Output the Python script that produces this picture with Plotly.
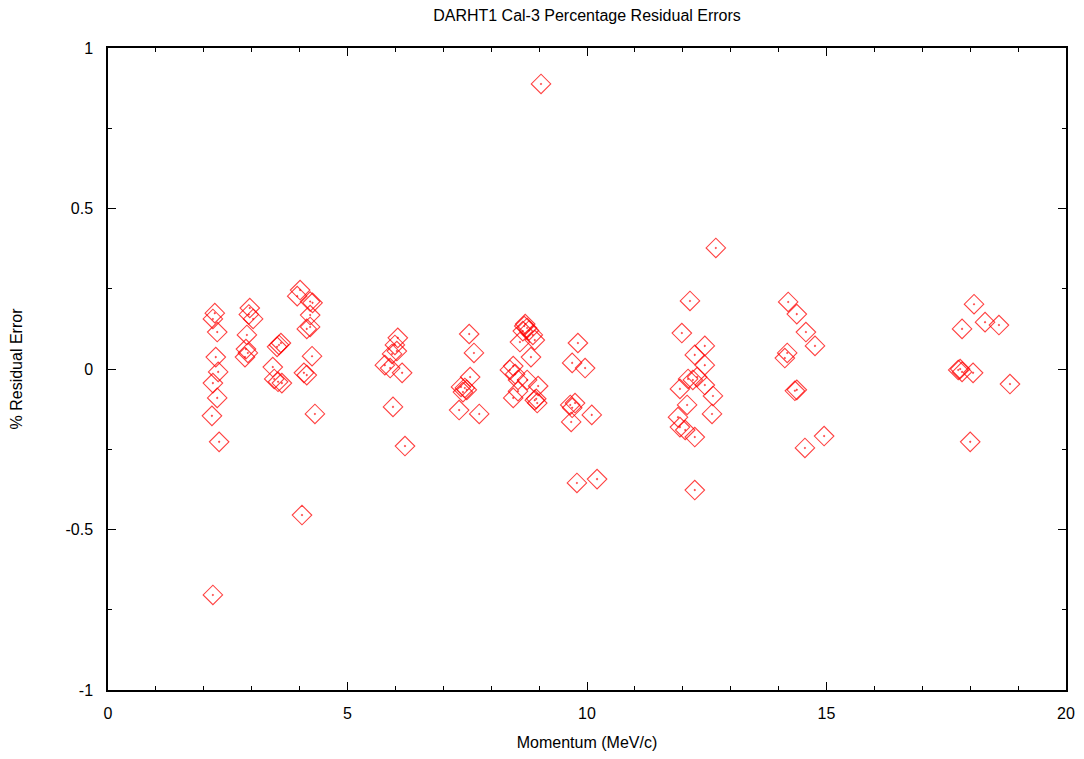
import plotly.graph_objects as go

# Momentum (MeV/c) and % residual error
momentum = [
    2.23, 2.19, 2.28, 2.25, 2.30, 2.19, 2.28, 2.17, 2.32, 2.19,
    2.96, 2.94, 3.03, 2.90, 2.88, 2.86, 2.92,
    3.57, 3.53, 3.61, 3.44, 3.47, 3.55, 3.63,
    4.01, 3.95, 4.22, 4.27, 4.22, 4.15, 4.22, 4.26, 4.09, 4.15, 4.32, 4.05,
    6.05, 5.99, 6.03, 5.93, 5.78, 5.89, 6.14, 5.95, 6.20,
    7.54, 7.64, 7.56, 7.37, 7.45, 7.41, 7.49, 7.33, 7.75,
    8.71, 8.75, 8.66, 8.87, 8.60, 8.91, 8.83, 8.46, 8.39, 8.50, 8.56, 8.75,
    8.46, 8.56, 8.98, 8.91, 8.96, 8.94, 8.69, 8.79,
    9.04,
    9.81, 9.69, 9.96, 9.65, 9.75, 9.69, 10.10, 9.67, 9.79, 10.21,
    12.69, 12.15, 11.98, 12.46, 12.25, 12.46, 12.11, 12.30, 12.21, 11.94,
    12.46, 12.63, 12.09, 12.61, 11.90, 11.94, 12.05, 12.25, 12.25,
    14.20, 14.38, 14.57, 14.76, 14.18, 14.13, 14.34, 14.38, 14.95, 14.55,
    18.08, 17.83, 18.31, 18.60, 17.79, 17.83, 17.75, 18.06, 18.83, 18.00,
]
residual = [
    0.174, 0.156, 0.115, 0.037, -0.009, -0.044, -0.090, -0.146, -0.227, -0.704,
    0.190, 0.170, 0.156, 0.106, 0.062, 0.037, 0.050,
    0.075, 0.069, 0.081, 0.006, -0.031, -0.040, -0.044,
    0.246, 0.227, 0.210, 0.206, 0.168, 0.125, 0.131, 0.040, -0.012, -0.019, -0.140, -0.455,
    0.097, 0.075, 0.056, 0.047, 0.012, 0.003, -0.012, -0.118, -0.240,
    0.109, 0.050, -0.025, -0.056, -0.059, -0.072, -0.065, -0.128, -0.140,
    0.140, 0.128, 0.118, 0.106, 0.084, 0.090, 0.037, 0.009, -0.003, -0.016, -0.034, -0.034,
    -0.090, -0.069, -0.053, -0.097, -0.106, -0.093, 0.134, 0.120,
    0.888,
    0.081, 0.019, 0.003, -0.112, -0.106, -0.121, -0.143, -0.165, -0.355, -0.343,
    0.377, 0.212, 0.112, 0.072, 0.044, 0.012, -0.031, -0.025, -0.034, -0.062,
    -0.050, -0.084, -0.112, -0.140, -0.150, -0.181, -0.190, -0.212, -0.377,
    0.209, 0.171, 0.115, 0.072, 0.050, 0.034, -0.068, -0.065, -0.209, -0.246,
    0.202, 0.125, 0.146, 0.137, 0.000, -0.009, -0.003, -0.012, -0.047, -0.227,
]

x_ticks = [0, 5, 10, 15, 20]
y_ticks = [-1, -0.5, 0, 0.5, 1]
y_tick_labels = ["-1", "-0.5", "0", "0.5", "1"]

FONT = "Liberation Sans, Arial, sans-serif"

fig = go.Figure()
fig.add_trace(go.Scatter(
    x=momentum, y=residual, mode="markers",
    marker=dict(symbol="diamond-open-dot", size=15, color="rgba(255,0,0,0.75)",
                line=dict(width=1.1, color="rgba(255,0,0,0.75)")),
    showlegend=False,
))

axis_common = dict(
    showgrid=False, zeroline=False, showline=True, linecolor="black", linewidth=1.5,
    mirror="allticks", ticks="inside", ticklen=8, tickwidth=1, tickcolor="black",
    tickfont=dict(family=FONT, size=16, color="black"),
    automargin=False,
)

fig.update_layout(
    width=1068, height=743,
    paper_bgcolor="white", plot_bgcolor="white",
    margin=dict(l=100, r=10, t=40, b=61),
    title=dict(text="DARHT1 Cal-3 Percentage Residual Errors", x=0.5, xref="paper",
               yref="container", y=0.990, yanchor="middle",
               font=dict(family=FONT, size=16, color="black")),
    xaxis=dict(range=[0, 20], tickvals=x_ticks, ticktext=[str(v) for v in x_ticks],
               minor=dict(dtick=1, ticks="inside", ticklen=4, tickcolor="black"),
               title=dict(text="Momentum (MeV/c)", standoff=20,
                          font=dict(family=FONT, size=16, color="black")),
               ticklabelstandoff=8,
               **axis_common),
    yaxis=dict(range=[-1, 1], tickvals=y_ticks, ticktext=y_tick_labels,
               minor=dict(dtick=0.25, ticks="inside", ticklen=4, tickcolor="black"),
               title=dict(text="% Residual Error", standoff=40,
                          font=dict(family=FONT, size=16, color="black")),
               ticklabelstandoff=10,
               **axis_common),
)

fig.write_html("out.html")
